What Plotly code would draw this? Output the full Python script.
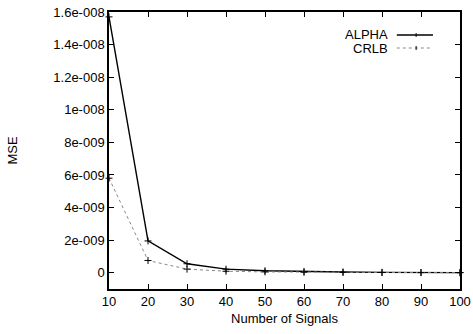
import plotly.graph_objects as go

signals = [10, 20, 30, 40, 50, 60, 70, 80, 90, 100]
alpha_mse = [1.57e-8, 1.95e-9, 5.5e-10, 2.2e-10, 1.2e-10, 7e-11, 4e-11, 2e-11, 1e-11, 5e-12]
crlb_mse = [5.8e-9, 7.5e-10, 2.2e-10, 9e-11, 5e-11, 3e-11, 2e-11, 1e-11, 7e-12, 4e-12]

y_tickvals = [0, 2e-9, 4e-9, 6e-9, 8e-9, 1e-8, 1.2e-8, 1.4e-8, 1.6e-8]
y_ticktext = ["0", "2e-009", "4e-009", "6e-009", "8e-009", "1e-008", "1.2e-008", "1.4e-008", "1.6e-008"]
x_tickvals = [10, 20, 30, 40, 50, 60, 70, 80, 90, 100]

font = "Liberation Sans, Arial, sans-serif"
fs = 13

fig = go.Figure()
fig.add_trace(go.Scatter(
    x=signals, y=alpha_mse, name="ALPHA", mode="lines+markers",
    line=dict(color="black", width=1.4),
    marker=dict(symbol="cross-thin", size=5, line=dict(color="black", width=1)),
    showlegend=False, cliponaxis=False))
fig.add_trace(go.Scatter(
    x=signals, y=crlb_mse, name="CRLB", mode="lines+markers",
    line=dict(color="#888888", width=1, dash="dot"),
    marker=dict(symbol="cross-thin", size=5, line=dict(color="black", width=1)),
    showlegend=False, cliponaxis=False))

# hand-made gnuplot-style legend
legend_items = [("ALPHA", "black", "solid", 1.4, 0.917), ("CRLB", "#888888", "dot", 1, 0.870)]
for label, color, dash, w, yy in legend_items:
    fig.add_annotation(x=0.80, y=yy, xref="paper", yref="paper", text=label,
                       showarrow=False, xanchor="right", yanchor="middle",
                       font=dict(family=font, size=fs, color="black"))
    fig.add_shape(type="line", xref="paper", yref="paper", x0=0.82, x1=0.923, y0=yy, y1=yy,
                  line=dict(color=color, width=w, dash=dash))
    fig.add_shape(type="line", xref="paper", yref="paper", x0=0.875, x1=0.875,
                  y0=yy - 0.007, y1=yy + 0.007, line=dict(color="black", width=1))

fig.update_layout(
    width=473, height=334,
    margin=dict(l=109, r=13, t=12, b=45, autoexpand=False),
    paper_bgcolor="white", plot_bgcolor="white",
    font=dict(family=font, size=fs, color="black"),
    xaxis=dict(range=[10, 100], tickvals=x_tickvals, ticks="inside", ticklen=5,
               tickcolor="black", showline=True, linecolor="black", linewidth=1.5,
               mirror="ticks", showgrid=False, zeroline=False, automargin=False,
               ticklabeloverflow="allow",
               title=dict(text="Number of Signals", font=dict(size=fs), standoff=6)),
    yaxis=dict(range=[-1e-9, 1.6e-8], tickvals=y_tickvals, ticktext=y_ticktext,
               ticks="inside", ticklen=5, tickcolor="black", showline=True,
               linecolor="black", linewidth=1.5, mirror="ticks", showgrid=False,
               zeroline=False, automargin=False, ticklabeloverflow="allow",
               title=dict(text="MSE", font=dict(size=fs), standoff=33)),
)

# remove the default 8px page margin so the figure sits at the window's corner
fig.write_html("out.html", config={"displayModeBar": False},
               post_script="document.body.style.margin='0';")
